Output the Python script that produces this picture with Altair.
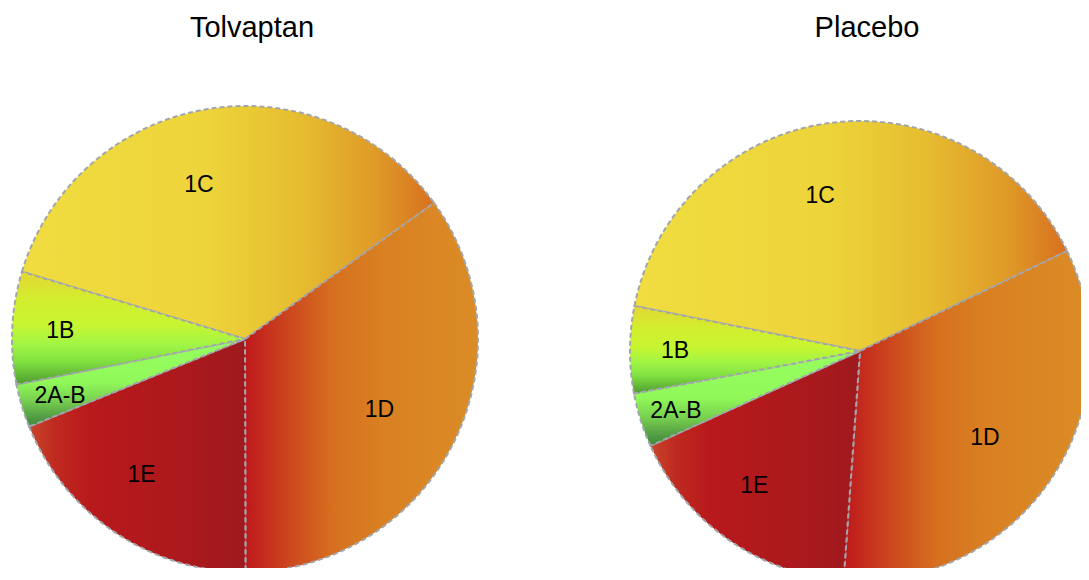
import math
import altair as alt
import pandas as pd

# ---- data ----
panels = ["Tolvaptan", "Placebo"]
categories = ["1C", "1D", "1E", "2A-B", "1B"]
tolvaptan_pct = [35.4, 34.9, 18.9, 3.0, 7.8]
placebo_pct = [39.7, 33.3, 17.1, 3.8, 6.1]

rows = []
for panel, vals in zip(panels, [tolvaptan_pct, placebo_pct]):
    cum = 0.0
    for c, v in zip(categories, vals):
        rows.append(dict(panel=panel, category=c, value=v,
                         start=cum, end=cum + v, mid=cum + v / 2))
        cum += v
df = pd.DataFrame(rows)


# ---- styles ----
def grad(stops, vertical=False):
    return alt.Gradient(
        gradient="linear",
        stops=[alt.GradientStop(offset=o, color=c) for o, c in stops],
        x1=0, y1=0, x2=0 if vertical else 1, y2=1 if vertical else 0,
    )


fills = {
    "1C": grad([(0, "#F0DD40"), (0.45, "#EDD43A"), (0.68, "#E6BC30"),
                (0.86, "#DF9A28"), (1, "#D8701F")]),
    "1D": grad([(0, "#BE181C"), (0.17, "#CB421E"), (0.38, "#D6701F"),
                (0.58, "#D98022"), (1, "#DB8C26")]),
    "1E": grad([(0, "#C8462A"), (0.12, "#BF2A20"), (0.28, "#B8191C"),
                (0.7, "#AC191C"), (1, "#9E1A1E")]),
    "2A-B": grad([(0, "#98FF60"), (0.5, "#90F858"), (0.7, "#78D050"),
                  (0.9, "#509A42"), (1, "#3E8A3A")], vertical=True),
    "1B": grad([(0, "#E4D634"), (0.25, "#D2EE2E"), (0.47, "#C8F530"),
                (0.65, "#A0F545"), (0.8, "#80E040"), (1, "#4E9A30")],
               vertical=True),
}
label_radius = {"1C": 158, "1D": 151, "1E": 164, "2A-B": 193, "1B": 185}
label_dx = {"1C": -20, "1D": 0, "1E": -12, "2A-B": 0, "1B": 0}
label_dy = {"1C": 2, "1D": 2, "1E": 0, "2A-B": 2, "1B": 1}
rotation_deg = {"Tolvaptan": 286.8, "Placebo": 281.3}
pie_radius = {"Tolvaptan": 233, "Placebo": 230}

X = alt.X("panel:N", axis=None,
          scale=alt.Scale(type="point", domain=panels, range=[237, 852], padding=0))
Y = alt.Y("panel:N", axis=None,
          scale=alt.Scale(type="point", domain=panels, range=[325, 337], padding=0))

base = alt.Chart(df)
panel_layers = []
for p in panels:
    rot = math.radians(rotation_deg[p])
    theta_scale = alt.Scale(domain=[0, 100], range=[rot, rot + 2 * math.pi])
    layers = []
    for c in categories:
        layers.append(
            base.transform_filter(
                (alt.datum.panel == p) & (alt.datum.category == c)
            ).mark_arc(
                fill=fills[c], stroke="#A2A6AC", strokeDash=[5, 3],
                strokeWidth=2, radius=pie_radius[p],
            ).encode(
                x=X, y=Y,
                theta=alt.Theta("start:Q", scale=theta_scale),
                theta2="end:Q",
            )
        )
    for c in categories:
        layers.append(
            base.transform_filter(
                (alt.datum.panel == p) & (alt.datum.category == c)
            ).mark_text(
                font="Liberation Sans", fontSize=23, color="black",
                radius=label_radius[c], dx=label_dx[c], dy=label_dy[c],
            ).encode(
                x=X, y=Y,
                theta=alt.Theta("mid:Q", scale=theta_scale),
                text="category:N",
            )
        )
    panel_layers.append(alt.layer(*layers))

titles = alt.Chart(pd.DataFrame({"panel": panels})).mark_text(
    font="Liberation Sans", fontSize=29, color="black", dx=7,
    baseline="alphabetic",
).encode(x=X, y=alt.value(22.5), text="panel:N")

chart = alt.layer(*panel_layers, titles).resolve_scale(
    theta="independent"
).properties(
    width=1073, height=554,
    padding={"top": 6, "left": 0, "right": 0, "bottom": 0},
    autosize=alt.AutoSizeParams(type="none"),
).configure_view(stroke=None)

chart.save("out.html", embed_options={"renderer": "svg", "actions": False})
